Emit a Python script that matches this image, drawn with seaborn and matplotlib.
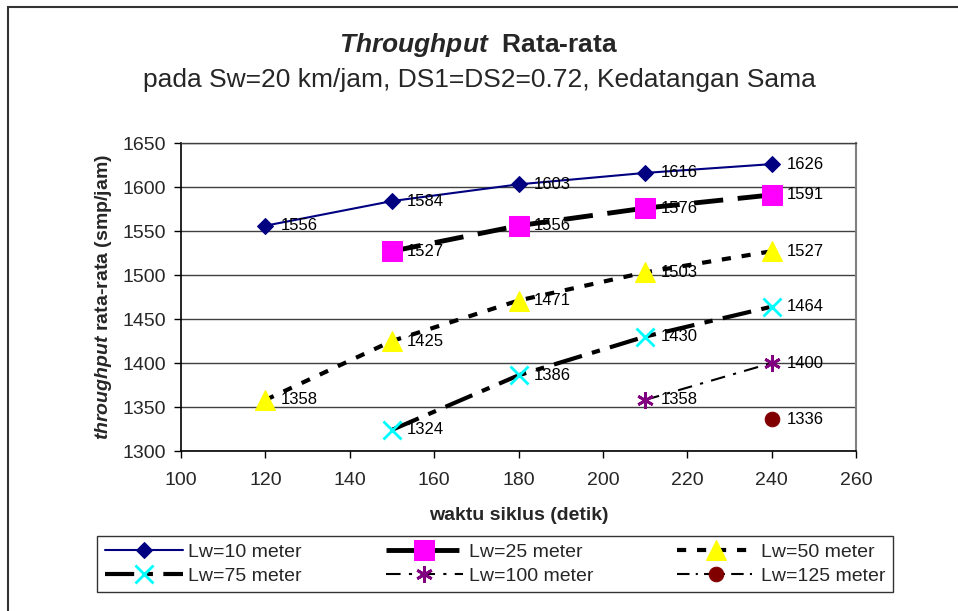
import matplotlib
matplotlib.use('Agg')
import matplotlib.pyplot as plt
import seaborn as sns
import pandas as pd
from matplotlib.patches import Rectangle

# data
cycle = [120, 150, 180, 210, 240]
lw10 = [1556, 1584, 1603, 1616, 1626]
lw25 = [None, 1527, 1556, 1576, 1591]
lw50 = [1358, 1425, 1471, 1503, 1527]
lw75 = [None, 1324, 1386, 1430, 1464]
lw100 = [None, None, None, 1358, 1400]
lw125 = [None, None, None, None, 1336]
labels = ['Lw=10 meter', 'Lw=25 meter', 'Lw=50 meter',
          'Lw=75 meter', 'Lw=100 meter', 'Lw=125 meter']

sns.set_style('white')
plt.rcParams['font.family'] = ['Liberation Sans', 'DejaVu Sans']
plt.rcParams['mathtext.fontset'] = 'custom'
plt.rcParams['mathtext.rm'] = 'Liberation Sans'
plt.rcParams['mathtext.it'] = 'Liberation Sans:italic'
plt.rcParams['mathtext.bf'] = 'Liberation Sans:bold'
plt.rcParams['mathtext.bfit'] = 'Liberation Sans:italic:bold'

fig = plt.figure(figsize=(9.58, 6.11), dpi=100)
ax = fig.add_axes([181 / 958, 1 - 451 / 611, (856 - 181) / 958, (451 - 143) / 611])

styles = [
    dict(color='#000080', lw=1.5, ls='-', marker='D', ms=8, mfc='#000080', mec='#000080'),
    dict(color='black', lw=3.5, ls=(0, (6, 3)), marker='s', ms=14, mfc='#ff00ff', mec='#ff00ff'),
    dict(color='black', lw=3, ls=(0, (2.2, 2.6)), marker='^', ms=14, mfc='#ffff00', mec='#ffff00'),
    dict(color='black', lw=3, ls=(0, (7, 2.5, 2, 2.5)), marker='x', ms=13, mew=2, mfc='#00ffff', mec='#00ffff'),
    dict(color='black', lw=1.5, ls=(0, (7, 4, 1.5, 4)), marker=(6, 2, 0), ms=12, mew=2, mfc='#800080', mec='#800080'),
    dict(color='black', lw=1.5, ls=(0, (6, 3, 1, 3)), marker='o', ms=10.5, mfc='#800000', mec='#800000'),
]

series = [lw10, lw25, lw50, lw75, lw100, lw125]
handles = []
for vals, lab, st in zip(series, labels, styles):
    df = pd.DataFrame({'x': cycle, 'y': vals}).dropna()
    sns.lineplot(data=df, x='x', y='y', ax=ax, label=lab, legend=False, **st)
    handles.append(ax.lines[-1])
    for xv, yv in zip(df['x'], df['y']):
        ax.annotate(f'{int(yv)}', (xv, yv), xytext=(11, 0), textcoords='offset points',
                    ha='left', va='center', fontsize=12, color='black')

ax.set_xlim(100, 260)
ax.set_ylim(1300, 1650)
ax.set_xticks(range(100, 261, 20))
ax.set_yticks(range(1300, 1651, 50))
ax.yaxis.grid(True, color='#404040', lw=1)
ax.xaxis.grid(False)
ax.tick_params(axis='both', labelsize=14, direction='out', length=5, width=1,
               color='black', left=True, bottom=True)
ax.tick_params(axis='x', pad=10)
ax.tick_params(axis='y', pad=6)
for s in ['left', 'bottom']:
    ax.spines[s].set_color('black')
    ax.spines[s].set_linewidth(1.2)
ax.spines['right'].set_color('#808080')
ax.spines['right'].set_linewidth(1.5)
ax.spines['top'].set_color('#404040')
ax.spines['top'].set_linewidth(1)

ax.set_xlabel('waktu siklus (detik)', fontsize=14, fontweight='bold', labelpad=13)
ax.set_ylabel(r'$\mathbfit{throughput}$ rata-rata (smp/jam)', fontsize=14, fontweight='bold', labelpad=6)

fig.text(0.5, 1 - 45 / 611, r'$\mathbfit{Throughput}$  Rata-rata', ha='center', va='center',
         fontsize=19, fontweight='bold')
fig.text(0.5, 1 - 80 / 611, 'pada Sw=20 km/jam, DS1=DS2=0.72, Kedatangan Sama',
         ha='center', va='center', fontsize=19)

order = [0, 3, 1, 4, 2, 5]
leg = fig.legend([handles[i] for i in order], [labels[i] for i in order],
                 loc='center', ncol=3, mode='expand',
                 bbox_to_anchor=(97 / 958, 1 - 594 / 611, 796 / 958, 60 / 611),
                 fontsize=14, frameon=True, fancybox=False, handlelength=4,
                 borderaxespad=0, borderpad=0.4, labelspacing=0.3, handletextpad=0.3)
leg.get_frame().set_edgecolor('black')
leg.get_frame().set_linewidth(1)

fig.patches.append(Rectangle((8 / 958, -0.05), 1.1, 1 - 7 / 611 + 0.05, transform=fig.transFigure,
                             fill=False, edgecolor='#333333', lw=1.5))

fig.savefig('out.png', dpi=100)
